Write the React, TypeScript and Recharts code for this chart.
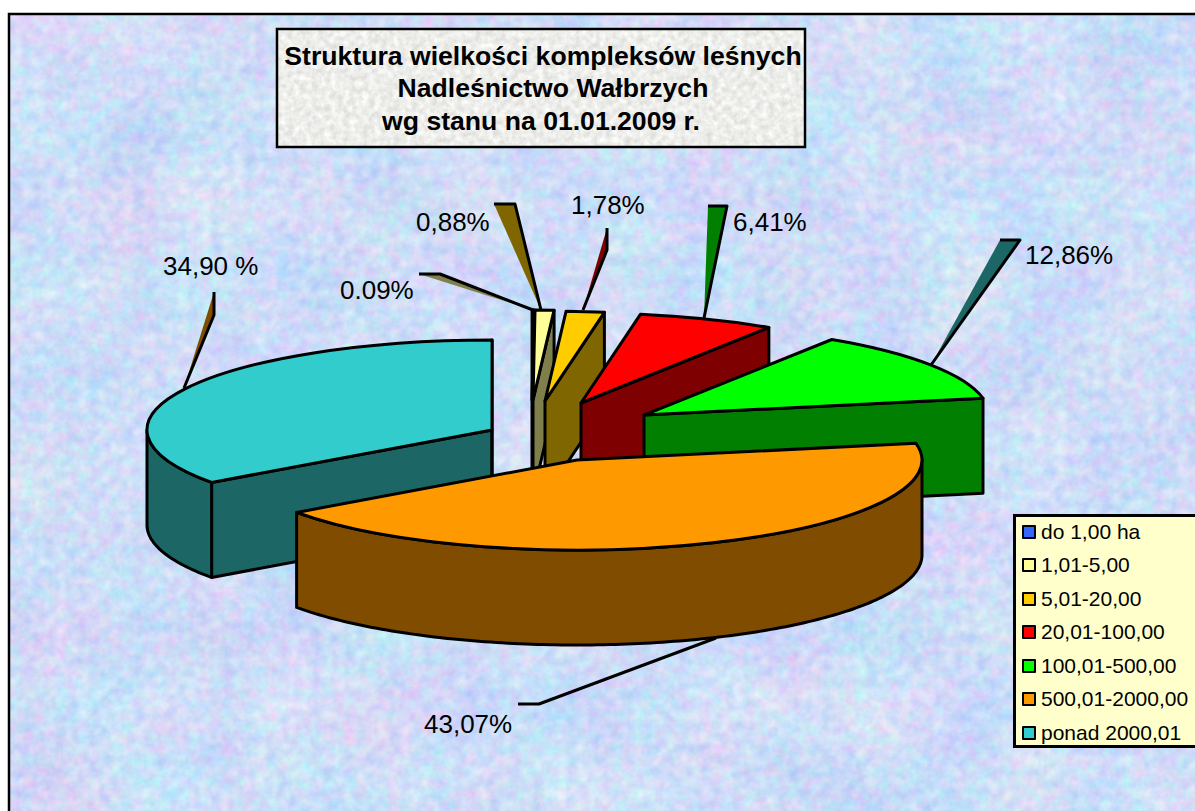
import React from "react";
import { PieChart, Pie, Legend } from "recharts";

// ---- data (clockwise starting at the cyan slice so the paint order is back to front)
const names = ["ponad 2000,01", "do 1,00 ha", "1,01-5,00", "5,01-20,00", "20,01-100,00", "100,01-500,00", "500,01-2000,00"];
const values = [34.9, 0.09, 0.88, 1.78, 6.41, 12.86, 43.07];
const labels = ["34,90 %", "0.09%", "0,88%", "1,78%", "6,41%", "12,86%", "43,07%"];
const legendOrder = ["do 1,00 ha", "1,01-5,00", "5,01-20,00", "20,01-100,00", "100,01-500,00", "500,01-2000,00", "ponad 2000,01"];
const titleLines = ["Struktura wielkości kompleksów leśnych", "Nadleśnictwo Wałbrzych", "wg stanu na 01.01.2009 r."];

// ---- styles and layout
const topColors = ["#33CCCC", "#3366FF", "#FFFF99", "#FFCC00", "#FF0000", "#00FF00", "#FF9900"];
const wallColors = ["#1C6666", "#1A337F", "#7F7F4C", "#7F6600", "#7F0000", "#007F00", "#7F4C00"];
const leaderFills = ["#7F4C00", "#7F7F4C", "#7F6600", "#7F0000", "#007F00", "#1C6666", "none"];
const explodeX = [-88, -48, -47, -35, 1, 64, -3];
const explodeY = [10, -20, -20, -19, -17, -5, 40];
const labelX = [163, 340, 416, 571, 733, 1025, 424];
const labelY = [275, 299, 231, 214, 231, 264, 733];
const leaderFillPts = [
  "214,292 214,315 184,388",
  "419,274 440,274 533,310",
  "494,204 515,204 541,310",
  "607,228 607,250 583,310",
  "708,206 727,206 704,318",
  "1000,240 1020,240 931,365",
  "",
];
const leaderStrokePts = [
  "214,292 214,315 184,388",
  "419,274 440,274 533,310",
  "494,204 515,204 541,310",
  "607,228 607,250 583,310",
  "708,206 727,206 704,318",
  "1000,240 1020,240 931,365",
  "518,704 539,704 716,638",
];

const W = 1195;
const H = 811;
const CX = 580;
const CY = 420;
const RX = 345;
const RY = 90;
const DEPTH = 95;
const EDGE = 3;

const rows = names.map((name, i) => ({
  name,
  value: values[i],
  fill: topColors[i],
  wall: wallColors[i],
  dx: explodeX[i],
  dy: explodeY[i],
  label: labels[i],
  lx: labelX[i],
  ly: labelY[i],
  leaderFillPts: leaderFillPts[i],
  leaderStrokePts: leaderStrokePts[i],
  leaderFill: leaderFills[i],
}));

const rad = (a: number) => (a * Math.PI) / 180;

function Slice3D(props: any) {
  const row = props.payload ?? props;
  const cx = props.cx + row.dx;
  const cy = props.cy + row.dy;
  const rx = props.outerRadius;
  const ry = (rx * RY) / RX;
  const a1: number = props.startAngle;
  const a2: number = props.endAngle;
  const pt = (a: number, drop = 0): [number, number] => [cx + rx * Math.cos(rad(a)), cy - ry * Math.sin(rad(a)) + drop];
  const s = pt(a1);
  const e = pt(a2);
  const large = Math.abs(a1 - a2) > 180 ? 1 : 0;
  const top = `M${cx},${cy} L${s[0]},${s[1]} A${rx},${ry} 0 ${large} 1 ${e[0]},${e[1]} Z`;
  const common = { stroke: "#000", strokeWidth: EDGE, strokeLinejoin: "round" as const };

  const lo = Math.min(a1, a2);
  const hi = Math.max(a1, a2);
  let outer: string | null = null;
  for (const [f0, f1] of [[-180, 0], [180, 360]]) {
    const l = Math.max(lo, f0);
    const h = Math.min(hi, f1);
    if (h > l) {
      const p: string[] = [];
      const n = Math.max(2, Math.ceil(h - l));
      for (let i = 0; i <= n; i++) p.push(pt(h - ((h - l) * i) / n).join(","));
      for (let i = n; i >= 0; i--) p.push(pt(h - ((h - l) * i) / n, DEPTH).join(","));
      outer = p.join(" ");
    }
  }
  const quad = (a: number) => {
    const q = pt(a);
    return `${cx},${cy} ${q[0]},${q[1]} ${q[0]},${q[1] + DEPTH} ${cx},${cy + DEPTH}`;
  };
  return (
    <g>
      {Math.cos(rad(a1)) < -1e-6 && <polygon points={quad(a1)} fill={row.wall} {...common} />}
      {Math.cos(rad(a2)) > 1e-6 && <polygon points={quad(a2)} fill={row.wall} {...common} />}
      {outer && <polygon points={outer} fill={row.wall} {...common} />}
      <path d={top} fill={row.fill} {...common} />
    </g>
  );
}

function SliceLabel(props: any) {
  const row = props.payload ?? props;
  return (
    <g>
      {row.leaderFillPts && <polygon points={row.leaderFillPts} fill={row.leaderFill} stroke="none" />}
      <polyline points={row.leaderStrokePts} fill="none" stroke="#000" strokeWidth={EDGE} strokeLinejoin="round" />
      <text x={row.lx} y={row.ly} fontFamily="Liberation Sans" fontSize={26} fill="#000" textAnchor="start">
        {row.label}
      </text>
    </g>
  );
}

function LegendBox({ payload }: any) {
  const items = [...(payload ?? [])].sort(
    (a: any, b: any) => legendOrder.indexOf(a.value) - legendOrder.indexOf(b.value)
  );
  return (
    <div
      style={{
        boxSizing: "border-box",
        width: 190,
        height: 234,
        background: "#FFFFCC",
        border: "3px solid #000",
        padding: "0 0 0 6px",
        fontFamily: "Liberation Sans",
        fontSize: 21,
        color: "#000",
      }}
    >
      {items.map((it: any) => (
        <div
          key={it.value}
          style={{ height: 33.7, marginTop: -0.2, display: "flex", alignItems: "center", whiteSpace: "nowrap", position: "relative", top: -2 }}
        >
          <span
            style={{
              boxSizing: "border-box",
              display: "inline-block",
              width: 14,
              height: 14,
              marginRight: 5,
              background: it.color,
              border: "2px solid #000",
              borderRadius: 1,
            }}
          />
          {it.value}
        </div>
      ))}
    </div>
  );
}

function Backdrop() {
  return (
    <svg width={W} height={H} style={{ position: "absolute", left: 0, top: 0 }}>
      <defs>
        <filter id="paper" x="0" y="0" width="100%" height="100%" colorInterpolationFilters="sRGB">
          <feTurbulence type="fractalNoise" baseFrequency="0.09" numOctaves={3} seed={11} result="fine" />
          <feColorMatrix in="fine" type="matrix" values="1 0 0 0 0  0 1 0 0 0  0 0 1 0 0  0 0 0 0 1" result="fineA" />
          <feTurbulence type="fractalNoise" baseFrequency="0.012" numOctaves={2} seed={5} result="wide" />
          <feColorMatrix in="wide" type="matrix" values="1 0 0 0 0  0 1 0 0 0  0 0 1 0 0  0 0 0 0 1" result="wideA" />
          <feComposite in="fineA" in2="wideA" operator="arithmetic" k1="0" k2="0.6" k3="0.4" k4="0" result="mix" />
          <feColorMatrix
            in="mix"
            type="matrix"
            values="0.42 0 0 0 0.595  0 0.32 0 0 0.705  0 0 0.1 0 0.92  0 0 0 0 1"
          />
        </filter>
        <filter id="granite" x="0" y="0" width="100%" height="100%" colorInterpolationFilters="sRGB">
          <feTurbulence type="fractalNoise" baseFrequency="0.16" numOctaves={3} seed={4} />
          <feColorMatrix
            type="matrix"
            values="0.2 0 0 0 0.83  0.2 0 0 0 0.83  0.2 0 0 0 0.82  0 0 0 0 1"
          />
        </filter>
      </defs>
      <rect x={0} y={0} width={W} height={H} fill="#fff" />
      <rect x={9} y={14} width={W} height={H} filter="url(#paper)" />
      <rect x={9} y={14} width={W} height={H} fill="none" stroke="#000" strokeWidth={2.5} />
    </svg>
  );
}

function TitleBox() {
  return (
    <svg width={W} height={H} style={{ position: "absolute", left: 0, top: 0, pointerEvents: "none" }}>
      <rect x={277} y={29} width={528} height={118} filter="url(#granite)" />
      <rect x={277} y={29} width={528} height={118} fill="none" stroke="#000" strokeWidth={2.5} />
      {titleLines.map((t, i) => (
        <text
          key={t}
          x={[543, 553, 541][i]}
          y={[65, 97, 130][i]}
          textAnchor="middle"
          fontFamily="Liberation Sans"
          fontWeight="bold"
          fontSize={26.6}
          fill="#000"
        >
          {t}
        </text>
      ))}
    </svg>
  );
}

export default function App() {
  return (
    <div style={{ position: "absolute", left: 0, top: 0, width: W, height: H, overflow: "hidden" }}>
      <Backdrop />
      <TitleBox />
      <div style={{ position: "absolute", left: 0, top: 0 }}>
        <PieChart width={W} height={H} margin={{ top: 0, right: 0, bottom: 0, left: 0 }} style={{ background: "transparent" }}>
          <Pie
            data={rows}
            dataKey="value"
            nameKey="name"
            cx={CX}
            cy={CY}
            innerRadius={0}
            outerRadius={RX}
            startAngle={215.64}
            endAngle={-144.36}
            isAnimationActive={false}
            shape={Slice3D}
            label={SliceLabel}
            labelLine={false}
            rootTabIndex={-1}
          />
          <Legend
            layout="vertical"
            align="right"
            verticalAlign="middle"
            content={LegendBox}
            wrapperStyle={{ left: 1013, top: 514, width: 190, height: 234, right: "auto", bottom: "auto" }}
          />
        </PieChart>
      </div>
    </div>
  );
}
